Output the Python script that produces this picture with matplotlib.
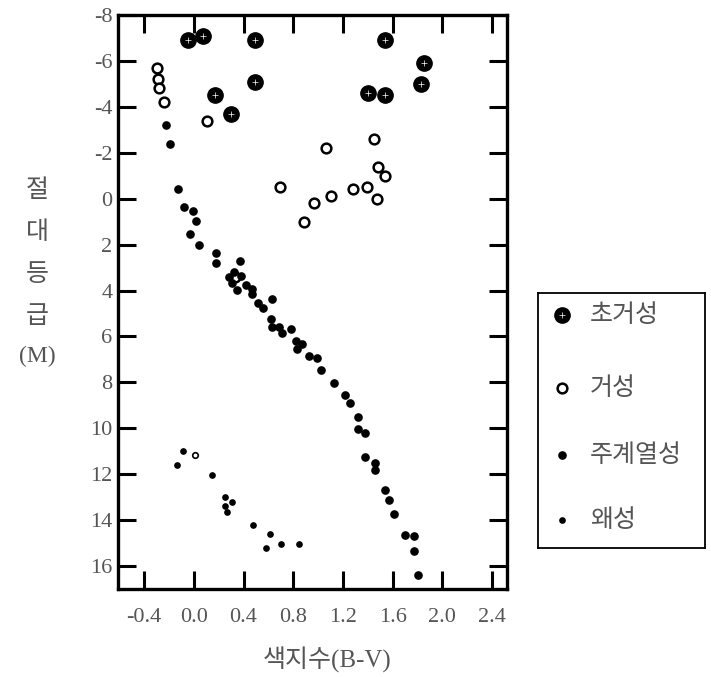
import matplotlib
matplotlib.use("Agg")
import matplotlib.pyplot as plt

# H-R diagram data (B-V colour index, absolute magnitude)
supergiant_bv = [-0.05, 0.07, 0.49, 1.54, 1.85, 0.49, 0.17, 0.30, 1.40, 1.54, 1.83]
supergiant_m = [-6.9, -7.1, -6.9, -6.9, -5.9, -5.1, -4.5, -3.7, -4.6, -4.5, -5.0]

giant_bv = [-0.30, -0.29, -0.28, -0.24, 0.11, 0.69, 1.06, 1.45, 1.48, 1.54,
            1.39, 1.28, 1.10, 0.97, 1.47, 0.89, 0.33]
giant_m = [-5.7, -5.2, -4.8, -4.2, -3.4, -0.5, -2.2, -2.6, -1.4, -1.0,
           -0.5, -0.4, -0.1, 0.2, 0.0, 1.0, 3.4]

main_bv = [-0.22, -0.19, -0.13, -0.08, -0.01, 0.016, -0.027, 0.043, 0.18, 0.18,
           0.37, 0.28, 0.32, 0.38, 0.31, 0.35, 0.42, 0.47, 0.465, 0.52,
           0.556, 0.626, 0.62, 0.63, 0.685, 0.71, 0.78, 0.82, 0.87, 0.83,
           0.93, 0.99, 1.02, 1.13, 1.22, 1.26, 1.32, 1.32, 1.38, 1.38,
           1.46, 1.46, 1.54, 1.57, 1.61, 1.70, 1.77, 1.77, 1.80]
main_m = [-3.2, -2.4, -0.4, 0.37, 0.55, 0.97, 1.55, 2.03, 2.38, 2.81,
          2.71, 3.43, 3.19, 3.36, 3.68, 3.97, 3.77, 3.94, 4.16, 4.55,
          4.74, 4.38, 5.25, 5.61, 5.57, 5.83, 5.68, 6.19, 6.33, 6.55,
          6.87, 6.96, 7.45, 8.03, 8.56, 8.88, 9.5, 10.03, 10.2, 11.24,
          11.5, 11.8, 12.68, 13.11, 13.74, 14.63, 14.7, 15.36, 16.4]

dwarf_bv = [-0.134, -0.086, 0.15, 0.25, 0.31, 0.25, 0.27, 0.48, 0.61, 0.58, 0.70, 0.85]
dwarf_m = [11.6, 11.0, 12.05, 12.98, 13.2, 13.38, 13.64, 14.23, 14.6, 15.2, 15.04, 15.04]
dwarf_open_bv = [0.013]
dwarf_open_m = [11.17]

x_ticks = [-0.4, 0.0, 0.4, 0.8, 1.2, 1.6, 2.0, 2.4]
x_tick_labels = ["-0.4", "0.0", "0.4", "0.8", "1.2", "1.6", "2.0", "2.4"]
y_ticks = [-8, -6, -4, -2, 0, 2, 4, 6, 8, 10, 12, 14, 16]
legend_labels = ["초거성", "거성", "주계열성", "왜성"]

plt.rcParams["axes.unicode_minus"] = False

KR = ["Noto Sans CJK KR", "DejaVu Sans"]
SERIF = "Liberation Serif"
MIXED = ["Liberation Serif", "Noto Sans CJK KR"]
GRAY = "#555555"

W, H = 711, 677
fig = plt.figure(figsize=(W / 100, H / 100), dpi=100)
ax = fig.add_axes([118 / W, 1 - 589 / H, 389 / W, 574 / H])

# stars
ax.plot(supergiant_bv, supergiant_m, "o", ms=11, color="black", ls="none")
ax.plot(supergiant_bv, supergiant_m, "+", ms=5, mew=0.5, color="white", ls="none")
ax.plot(giant_bv, giant_m, "o", ms=7, mfc="white", mec="black", mew=1.8, ls="none")
ax.plot(main_bv, main_m, "o", ms=5.2, color="black", ls="none")
ax.plot(dwarf_bv, dwarf_m, "o", ms=3.8, color="black", ls="none")
ax.plot(dwarf_open_bv, dwarf_open_m, "o", ms=4, mfc="white", mec="black", mew=1.2, ls="none")

ax.set_xlim(-0.61, 2.52)
ax.set_ylim(17, -8)
ax.set_xticks(x_ticks)
ax.set_xticklabels(x_tick_labels)
ax.set_yticks(y_ticks)
ax.tick_params(direction="in", length=13, width=2.2, top=True, right=True,
               labelsize=16, labelcolor=GRAY)
ax.tick_params(axis="x", pad=14)
ax.tick_params(axis="y", pad=4)
for lab in ax.get_xticklabels() + ax.get_yticklabels():
    lab.set_family(SERIF)
for sp in ax.spines.values():
    sp.set_linewidth(2.4)

# axis titles
fig.text(327 / W, 1 - 660 / H, "색지수(B-V)", ha="center", va="center",
         fontsize=18, color=GRAY, family=MIXED)
for i, ch in enumerate(["절", "대", "등", "급"]):
    fig.text(37 / W, 1 - (190 + i * 42) / H, ch, ha="center", va="center",
             fontsize=18, color=GRAY, family=KR)
fig.text(37 / W, 1 - 356 / H, "(M)", ha="center", va="center",
         fontsize=17, color=GRAY, family=SERIF)

# legend box
lax = fig.add_axes([538 / W, 1 - 548 / H, 167 / W, 255 / H])
lax.set_xlim(0, 1)
lax.set_ylim(0, 1)
lax.set_xticks([])
lax.set_yticks([])
for sp in lax.spines.values():
    sp.set_linewidth(1.3)
rows = [0.914, 0.627, 0.365, 0.11]
lax.plot([0.144], [rows[0]], "o", ms=11, color="black")
lax.plot([0.144], [rows[0]], "+", ms=5, mew=0.5, color="white")
lax.plot([0.144], [rows[1]], "o", ms=7, mfc="white", mec="black", mew=1.8)
lax.plot([0.144], [rows[2]], "o", ms=5.2, color="black")
lax.plot([0.144], [rows[3]], "o", ms=3.8, color="black")
for r, lab in zip(rows, legend_labels):
    lax.text(0.31, r, lab, ha="left", va="center", fontsize=18, color=GRAY, family=KR)

fig.savefig("out.png", dpi=100)
